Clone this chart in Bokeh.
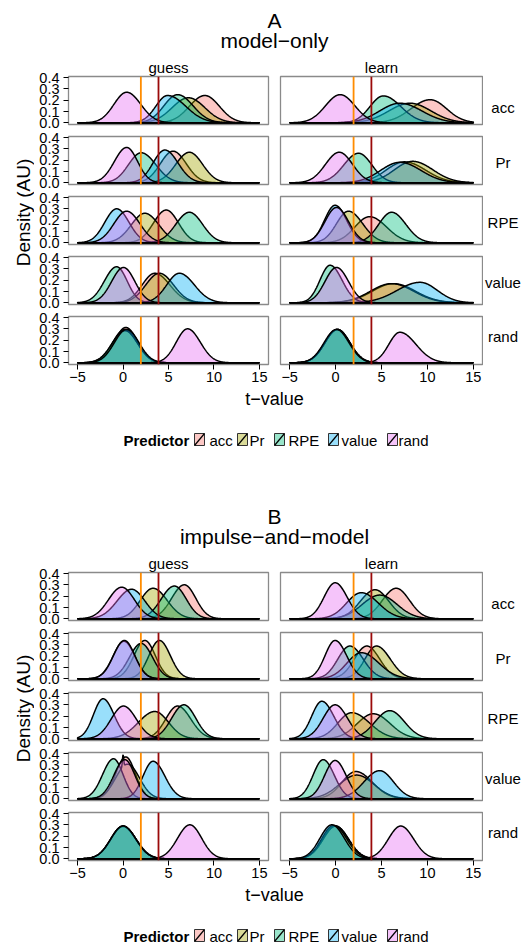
import numpy as np
from bokeh.plotting import figure
from bokeh.layouts import column, row
from bokeh.models import Range1d, FixedTicker, PrintfTickFormatter, Span
from bokeh.embed import file_html
from bokeh.resources import INLINE
from bokeh.core.properties import value

# ---------------- data ----------------
PREDICTORS = ["acc", "Pr", "RPE", "value", "rand"]
FACET_ROWS = ["acc", "Pr", "RPE", "value", "rand"]
FACET_COLS = ["guess", "learn"]
COLORS = ["#F8766D", "#A3A500", "#00BF7D", "#00B0F6", "#E76BF3"]
THRESH_LOW = 1.96
THRESH_HIGH = 3.9
X_TICKS = [-5, 0, 5, 10, 15]
X_TICK_LABELS = ["\u22125", "0", "5", "10", "15"]
Y_TICKS = [0.0, 0.1, 0.2, 0.3, 0.4]
PANEL_LETTERS = ["A", "B"]
PANEL_TITLES = ["model\u2212only", "impulse\u2212and\u2212model"]

# Peak location (t-value) of each density, left / right spread.
# keys: facet row; lists follow PREDICTORS order
A_GUESS_PEAK = {"acc": [9.0, 7.2, 6.0, 4.9, 0.4], "Pr": [5.5, 7.3, 2.0, 4.6, 0.4],
                "RPE": [4.75, 2.4, 7.3, -0.7, 0.4], "value": [3.5, 4.0, -0.7, 6.2, 0.05],
                "rand": [0.3, 0.2, 0.2, 0.4, 7.1]}
A_GUESS_SDL = {"acc": [1.7, 1.8, 1.5, 1.3, 1.4], "Pr": [1.4, 1.5, 1.4, 1.3, 1.35],
               "RPE": [1.4, 1.5, 1.5, 1.3, 1.4], "value": [1.4, 1.5, 1.35, 1.4, 1.3],
               "rand": [1.25, 1.35, 1.4, 1.35, 1.25]}
A_GUESS_SDR = {"acc": [1.6, 1.8, 1.7, 2.0, 1.55], "Pr": [1.45, 1.45, 1.6, 1.45, 1.2],
               "RPE": [1.35, 1.55, 1.45, 1.35, 1.45], "value": [1.65, 1.55, 1.15, 1.65, 1.25],
               "rand": [1.3, 1.35, 1.4, 1.35, 1.4]}

A_LEARN_PEAK = {"acc": [10.3, 8.1, 5.2, 7.0, 0.5], "Pr": [7.5, 8.4, 2.5, 7.0, 0.4],
                "RPE": [3.7, 1.4, 6.1, -0.05, 0.1], "value": [6.3, 6.1, -0.6, 9.2, 0.1],
                "rand": [0.2, 0.2, 0.2, 0.1, 7.0]}
A_LEARN_SDL = {"acc": [2.1, 2.3, 1.45, 2.2, 1.6], "Pr": [2.0, 2.0, 1.6, 2.1, 1.5],
               "RPE": [1.6, 1.3, 1.4, 1.15, 1.25], "value": [2.3, 2.3, 1.1, 2.5, 1.25],
               "rand": [1.35, 1.35, 1.35, 1.35, 1.2]}
A_LEARN_SDR = {"acc": [1.8, 2.3, 1.9, 2.4, 1.6], "Pr": [2.3, 2.2, 1.45, 2.3, 1.45],
               "RPE": [1.85, 1.55, 1.55, 1.25, 1.3], "value": [2.4, 2.4, 1.3, 1.9, 1.3],
               "rand": [1.35, 1.35, 1.35, 1.35, 1.75]}

B_GUESS_PEAK = {"acc": [6.75, 3.3, 5.65, 0.95, -0.15], "Pr": [2.4, 4.0, 2.0, 0.1, 0.15],
                "RPE": [6.0, 3.5, 6.7, -2.2, 0.05], "value": [0.3, 0.5, -1.05, 3.3, 0.2],
                "rand": [0.0, 0.0, 0.0, 0.0, 7.35]}
B_GUESS_SDL = {"acc": [1.4, 1.4, 1.45, 1.6, 1.45], "Pr": [1.2, 1.15, 1.3, 1.2, 1.2],
               "RPE": [1.3, 1.8, 1.35, 1.05, 1.35], "value": [1.1, 1.3, 1.2, 1.1, 1.2],
               "rand": [1.35, 1.35, 1.35, 1.35, 1.35]}
B_GUESS_SDR = {"acc": [1.25, 1.55, 1.3, 1.45, 1.4], "Pr": [1.15, 1.2, 1.25, 1.2, 1.15],
               "RPE": [1.45, 1.5, 1.3, 1.2, 1.4], "value": [1.05, 1.3, 1.05, 1.3, 1.1],
               "rand": [1.45, 1.4, 1.4, 1.4, 1.3]}

B_LEARN_PEAK = {"acc": [6.6, 4.3, 4.8, 2.8, -0.05], "Pr": [3.4, 4.45, 1.55, 2.8, -0.05],
                "RPE": [4.1, 1.75, 5.9, -1.5, -0.05], "value": [2.2, 2.3, -1.35, 4.8, -0.05],
                "rand": [0.0, 0.0, -0.2, -0.4, 7.1]}
B_LEARN_SDL = {"acc": [1.5, 1.6, 1.9, 1.6, 1.2], "Pr": [1.35, 1.25, 1.3, 1.55, 1.1],
               "RPE": [1.75, 1.5, 1.6, 1.1, 1.3], "value": [1.5, 1.9, 1.1, 1.7, 1.15],
               "rand": [1.35, 1.35, 1.3, 1.3, 1.35]}
B_LEARN_SDR = {"acc": [1.45, 1.5, 1.9, 1.85, 1.3], "Pr": [1.4, 1.5, 1.45, 1.9, 1.25],
               "RPE": [1.85, 1.95, 1.6, 1.3, 1.35], "value": [1.8, 1.9, 1.2, 1.5, 1.2],
               "rand": [1.4, 1.4, 1.4, 1.35, 1.4]}

# narrow spike seen in panel B / guess / value facet
SPIKE = {"panel": "B", "col": "guess", "row": "value", "predictor": "Pr", "t": 0.0, "height": 0.39}

PANEL_DATA = {
    "A": {"guess": (A_GUESS_PEAK, A_GUESS_SDL, A_GUESS_SDR),
          "learn": (A_LEARN_PEAK, A_LEARN_SDL, A_LEARN_SDR)},
    "B": {"guess": (B_GUESS_PEAK, B_GUESS_SDL, B_GUESS_SDR),
          "learn": (B_LEARN_PEAK, B_LEARN_SDL, B_LEARN_SDR)},
}

# ---------------- drawing ----------------
FONT = "Liberation Sans"
T = np.linspace(-5, 15, 512)
YLAB_W = 34
HEADER_H = 55
FIRST_TOP = 21
TOP = 6
GAP_BOTTOM = 6
LAST_BOTTOM = 24
FRAME_H = 48


def split_normal(t, peak, sl, sr):
    s = np.where(t < peak, sl, sr)
    return 2.0 / (np.sqrt(2 * np.pi) * (sl + sr)) * np.exp(-0.5 * ((t - peak) / s) ** 2)


def blank(width, height):
    p = figure(width=width, height=height, x_range=Range1d(0, width), y_range=Range1d(height, 0),
               toolbar_location=None, output_backend="svg", min_border=0,
               x_axis_location=None, y_axis_location=None)
    p.outline_line_color = None
    p.grid.visible = False
    p.background_fill_color = "white"
    p.border_fill_color = "white"
    return p


def label(p, x, y, txt, size, align="center", bold=False, angle=0.0):
    p.text(x=[x], y=[y], text=[txt], text_font=value(FONT), text_font_size=value(size),
           text_align=value(align), text_baseline=value("middle"), text_color="black",
           text_font_style=value("bold" if bold else "normal"), angle=angle)


def borders(row_idx):
    top = FIRST_TOP if row_idx == 0 else TOP
    bottom = LAST_BOTTOM if row_idx == len(FACET_ROWS) - 1 else GAP_BOTTOM
    return top, bottom


def facet(panel, col_idx, row_idx):
    colname = FACET_COLS[col_idx]
    rowname = FACET_ROWS[row_idx]
    last = row_idx == len(FACET_ROWS) - 1
    left = (68 - YLAB_W) if col_idx == 0 else 6
    right = 6 if col_idx == 0 else 1
    frame_w = 200 if col_idx == 0 else 202
    top, bottom = borders(row_idx)
    p = figure(width=left + frame_w + right, height=top + FRAME_H + bottom,
               x_range=Range1d(-6, 16), y_range=Range1d(-0.015, 0.41),
               toolbar_location=None, output_backend="svg",
               x_axis_location="below" if last else None,
               y_axis_location="left" if col_idx == 0 else None,
               min_border_left=left, min_border_right=right,
               min_border_top=top, min_border_bottom=bottom)
    p.grid.visible = False
    p.outline_line_color = "#8a8a8a"
    p.outline_line_width = 1.3
    p.background_fill_color = "white"
    p.border_fill_color = "white"
    if row_idx == 0:
        p.title.text = colname
        p.title.align = "center"
        p.title.text_font = FONT
        p.title.text_font_size = "15px"
        p.title.text_font_style = "normal"
        p.title.text_color = "black"
        p.title.standoff = 2
        p.title.offset = 0

    peaks, sdl, sdr = PANEL_DATA[panel][colname]
    for k, pred in enumerate(PREDICTORS):
        d = split_normal(T, peaks[rowname][k], sdl[rowname][k], sdr[rowname][k])
        if (SPIKE["panel"] == panel and SPIKE["col"] == colname and SPIKE["row"] == rowname
                and SPIKE["predictor"] == pred):
            base = np.interp(SPIKE["t"], T, d)
            d = d + max(0.0, SPIKE["height"] - base) * np.exp(-0.5 * ((T - SPIKE["t"]) / 0.07) ** 2)
        xs = np.concatenate([[T[0]], T, [T[-1]]])
        ys = np.concatenate([[0.0], d, [0.0]])
        p.patch(xs, ys, fill_color=COLORS[k], fill_alpha=0.4, line_color="black", line_width=1.5)

    p.add_layout(Span(location=THRESH_LOW, dimension="height", line_color="#FF8C00", line_width=1.8))
    p.add_layout(Span(location=THRESH_HIGH, dimension="height", line_color="#9B0A0A", line_width=1.8))

    if col_idx == 0:
        ax = p.yaxis[0]
        ax.ticker = FixedTicker(ticks=Y_TICKS)
        ax.formatter = PrintfTickFormatter(format="%.1f")
        ax.major_label_text_font = FONT
        ax.major_label_text_font_size = "14.5px"
        ax.major_label_text_color = "black"
        ax.major_tick_out = 5
        ax.major_tick_in = 0
        ax.major_tick_line_color = "black"
        ax.minor_tick_line_color = None
        ax.axis_line_color = None
        ax.major_label_standoff = 4
    if last:
        ax = p.xaxis[0]
        ax.ticker = FixedTicker(ticks=X_TICKS)
        ax.major_label_overrides = {t: s for t, s in zip(X_TICKS, X_TICK_LABELS)}
        ax.major_label_text_font = FONT
        ax.major_label_text_font_size = "14.5px"
        ax.major_label_text_color = "black"
        ax.major_tick_out = 5
        ax.major_tick_in = 0
        ax.major_tick_line_color = "black"
        ax.minor_tick_line_color = None
        ax.axis_line_color = None
        ax.major_label_standoff = 2
    return p


def strip(row_idx):
    top, bottom = borders(row_idx)
    p = blank(38, top + FRAME_H + bottom)
    label(p, 19.5, top + FRAME_H / 2 + 3, FACET_ROWS[row_idx], "15px")
    return p


def panel_layout(pi, footer_h):
    letter = PANEL_LETTERS[pi]
    header = blank(521, HEADER_H)
    label(header, 274, 19.5, letter, "21px")
    label(header, 274, 40, PANEL_TITLES[pi], "21px")

    rows = []
    rows_h = 0
    for r in range(len(FACET_ROWS)):
        rows.append(row(facet(letter, 0, r), facet(letter, 1, r), strip(r), spacing=0))
        top, bottom = borders(r)
        rows_h += top + FRAME_H + bottom
    ylab = blank(YLAB_W, rows_h)
    label(ylab, 23, 212 - HEADER_H, "Density (AU)", "19px", angle=np.pi / 2)

    footer = blank(521, footer_h)
    label(footer, 274, 10.5, "t\u2212value", "18px")
    ly = 51.5
    label(footer, 123, ly, "Predictor", "15px", align="left", bold=True)
    key_left = [194, 237, 274, 328, 387]
    text_left = [209, 249, 288, 341, 398]
    footer.quad(left=key_left, right=[k + 10 for k in key_left], top=[ly - 6.5] * 5,
                bottom=[ly + 5.5] * 5,
                fill_color=COLORS, fill_alpha=0.4, line_color="#333333", line_width=1)
    footer.segment(x0=key_left, y0=[ly + 5.5] * 5, x1=[k + 10 for k in key_left],
                   y1=[ly - 6.5] * 5, line_color="black", line_width=1.2)
    for tl, name in zip(text_left, PREDICTORS):
        label(footer, tl, ly, name, "15px", align="left")

    return column(header, row(ylab, column(*rows, spacing=0), spacing=0), footer, spacing=0), rows_h


_, ROWS_H = panel_layout(0, 10)
panel_h = HEADER_H + ROWS_H
pa, _ = panel_layout(0, 496 - panel_h)
pb, _ = panel_layout(1, 943 - 496 - panel_h)
p = column(pa, pb, spacing=0)

open("out.html", "w").write(file_html(p, INLINE))
